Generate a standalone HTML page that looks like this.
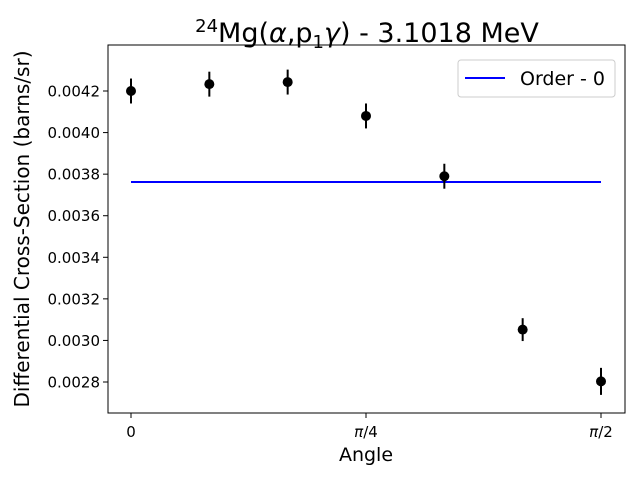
<!DOCTYPE html>
<html><head><meta charset="utf-8"><style>
body{margin:0;background:#fff;}
svg{display:block;font-family:"DejaVu Sans","Liberation Sans",sans-serif;}
</style></head><body>
<svg id="chart" width="640" height="480">
<rect x="0" y="0" width="640" height="480" fill="#fff"/>
<text x="367" y="42" text-anchor="middle" font-size="27"><tspan font-size="18" dy="-10">24</tspan><tspan dy="10">Mg(</tspan><tspan font-style="italic">α</tspan><tspan>,p</tspan><tspan font-size="18" dy="6">1</tspan><tspan font-style="italic" dy="-6">γ</tspan><tspan>) - 3.1018 MeV</tspan></text>
<g id="yticks"></g><g id="xticks"></g>
<g id="marks"></g>
<rect x="108" y="45" width="517" height="368" fill="none" stroke="#000" stroke-width="1"/>
<text x="366" y="461" text-anchor="middle" font-size="19">Angle</text>
<text transform="translate(29,229) rotate(-90)" text-anchor="middle" font-size="20">Differential Cross-Section (barns/sr)</text>
<g>
<rect x="458" y="60" width="157" height="37" rx="3" fill="#fff" stroke="#ccc"/>
<line x1="465" y1="78" x2="505" y2="78" stroke="#0000ff" stroke-width="2"/>
<text x="520" y="85" font-size="19">Order - 0</text>
</g>
</svg>
<script>
const angles=[0,1,2,3,4,5,6]; // in units of pi/12
const values=[0.004200,0.004233,0.004243,0.004080,0.003790,0.003052,0.002803];
const errors=[0.000060,0.000060,0.000060,0.000060,0.000060,0.000055,0.000065];
const fitValue=0.003762;
const yTicks=[0.0028,0.0030,0.0032,0.0034,0.0036,0.0038,0.0040,0.0042];
const xTicks=[0,3,6];
const xTickLabels=["0","π/4","π/2"];
const NS="http://www.w3.org/2000/svg";
function X(a){return 131+(a/6)*470;}
function Y(v){return 382-(v-0.0028)/0.0002*41.57;}
function mk(t,at,p){const e=document.createElementNS(NS,t);for(const k in at)e.setAttribute(k,at[k]);p.appendChild(e);return e;}
const yt=document.getElementById('yticks'),xt=document.getElementById('xticks'),m=document.getElementById('marks');
yTicks.forEach(v=>{
 const l=mk('line',{x1:103,x2:108,y1:Y(v),y2:Y(v),stroke:'#000'},yt);
 
 
 const t=mk('text',{x:100,y:Y(v)+5.5,'text-anchor':'end','font-size':15},yt);
 
 
 t.textContent=v.toFixed(4);
});
xTicks.forEach((a,i)=>{
 const l=mk('line',{x1:X(a),x2:X(a),y1:413,y2:418,stroke:'#000'},xt);
 
 
 const t=mk('text',{x:X(a),y:437,'text-anchor':'middle','font-size':15},xt);
 
 
 const lab=xTickLabels[i];
 if(lab[0]==='π'){const s=mk('tspan',{'font-style':'italic'},t);s.textContent='π';t.appendChild(document.createTextNode(lab.slice(1)));}
 else t.textContent=lab;
});
const fl=mk('line',{x1:X(0),x2:X(6),y1:Y(fitValue),y2:Y(fitValue),stroke:'#0000ff','stroke-width':2},m);


angles.forEach((a,i)=>{
 const e=mk('line',{x1:X(a),x2:X(a),y1:Y(values[i]+errors[i]),y2:Y(values[i]-errors[i]),stroke:'#000','stroke-width':2},m);
 
 
 const c=mk('circle',{cx:X(a),cy:Y(values[i]),r:5,fill:'#000'},m);
 
 
});
</script>
</body></html>
